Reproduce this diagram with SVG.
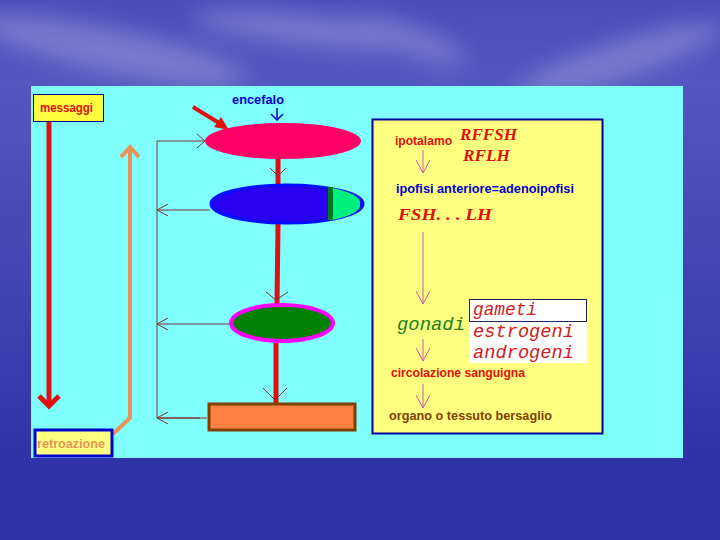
<svg xmlns="http://www.w3.org/2000/svg" width="720" height="540" viewBox="0 0 720 540">
<defs>
<linearGradient id="bg" x1="0" y1="0" x2="0" y2="1">
<stop offset="0" stop-color="#4A4CB8"/>
<stop offset="0.15" stop-color="#5457BE"/>
<stop offset="0.85" stop-color="#3033A8"/>
<stop offset="1" stop-color="#2E30A6"/>
</linearGradient>
<filter id="blur" x="-30%" y="-100%" width="160%" height="300%"><feGaussianBlur stdDeviation="12"/></filter>
<marker id="thin" viewBox="0 0 12 12" refX="11" refY="6" markerWidth="12" markerHeight="12" markerUnits="userSpaceOnUse" orient="auto">
<path d="M0,0 L11,6 L0,12" fill="none" stroke="#803030" stroke-width="1"/>
</marker>
<marker id="pink" viewBox="0 0 14 14" refX="13" refY="7" markerWidth="14" markerHeight="14" markerUnits="userSpaceOnUse" orient="auto">
<path d="M0,0 L13,7 L0,14" fill="none" stroke="#E050B0" stroke-width="1"/>
</marker>
</defs>
<style>
.lbl{font-family:"Liberation Sans",Arial,sans-serif;font-weight:bold;font-size:12px}
.mono{font-family:"Liberation Mono","Courier New",monospace;font-style:italic}
.fb{stroke:#803030;stroke-width:1;fill:none}
.pk{stroke:#E050B0;stroke-width:1;fill:none;marker-end:url(#pink)}
.red{stroke:#E01010;stroke-width:5;fill:none}
</style>
<rect x="0" y="0" width="720" height="540" fill="url(#bg)"/>
<g filter="url(#blur)" fill="#B8B8EC" opacity="0.4">
<ellipse cx="110" cy="50" rx="140" ry="22" transform="rotate(12 110 50)"/>
<ellipse cx="310" cy="30" rx="120" ry="16" transform="rotate(6 310 30)"/>
<ellipse cx="410" cy="40" rx="60" ry="14" transform="rotate(20 410 40)"/>
<ellipse cx="620" cy="60" rx="110" ry="18" transform="rotate(-18 620 60)"/>
</g>
<rect x="31" y="86" width="652" height="372" fill="#80FFFF"/>

<g id="connectors">
<line class="red" x1="49" y1="121" x2="49" y2="405"/>
<polyline points="39,396 49,406 59,396" fill="none" stroke="#E01010" stroke-width="5"/>
<polyline points="130,148 130,418 113,434" fill="none" stroke="#E8925A" stroke-width="4"/>
<polyline points="121,157 130,147 139,157" fill="none" stroke="#E8925A" stroke-width="4"/>
<line x1="193" y1="107" x2="224" y2="126" stroke="#E01010" stroke-width="4"/>
<polygon points="229,130 214,127 221,117" fill="#E01010"/>
<line x1="277" y1="108" x2="277" y2="120" stroke="#0000CC" stroke-width="1.5"/>
<polyline points="271,114 277,120 283,114" fill="none" stroke="#0000CC" stroke-width="1.5"/>
<line class="red" x1="278" y1="158" x2="278" y2="186"/>
<line class="red" x1="278" y1="224" x2="277" y2="304"/>
<line class="red" x1="276" y1="343" x2="276" y2="404"/>
<polyline class="fb" points="270,168 278,176 286,168"/>
<polyline class="fb" points="266,292 276,300 288,292"/>
<polyline class="fb" points="263,388 275,400 287,388"/>
<polyline class="fb" points="205,141 157,141 157,418 207,418"/>
<line class="fb" x1="197" y1="134" x2="205" y2="141"/>
<line class="fb" x1="197" y1="148" x2="205" y2="141"/>
<line class="fb" x1="210" y1="210" x2="157" y2="210" marker-end="url(#thin)"/>
<line class="fb" x1="230" y1="324" x2="157" y2="324" marker-end="url(#thin)"/>
<line class="fb" x1="200" y1="418" x2="157" y2="418" marker-end="url(#thin)"/>
</g>

<g id="messaggi">
<rect x="33.5" y="94.5" width="70" height="27" fill="#FFFF40" stroke="#000080" stroke-width="1"/>
<text class="lbl" x="40" y="112" fill="#E01010" textLength="53" lengthAdjust="spacingAndGlyphs">messaggi</text>
</g>
<g id="retroazione">
<rect x="35" y="430" width="77" height="26" fill="#FFFF80" stroke="#0000D0" stroke-width="3"/>
<text class="lbl" x="37" y="448" fill="#E8925A" textLength="68" lengthAdjust="spacingAndGlyphs">retroazione</text>
</g>
<g id="encefalo">
<text class="lbl" x="232" y="104" fill="#0000CC" textLength="52" lengthAdjust="spacingAndGlyphs">encefalo</text>
<ellipse cx="283" cy="141" rx="78" ry="18" fill="#FF0066"/>
</g>
<g id="ipofisi">
<ellipse cx="287" cy="204" rx="76" ry="19" fill="#2A00F0" stroke="#0010FF" stroke-width="3"/>
<path d="M330,187.5 A76,19 0 0 1 360,204 A76,19 0 0 1 330,220.5 Z" fill="#00F080"/>
<rect x="328" y="187" width="5" height="33" fill="#007A20"/>
</g>
<g id="gonadi">
<ellipse cx="282" cy="323" rx="51" ry="18" fill="#008000" stroke="#FF00FF" stroke-width="4"/>
</g>
<g id="bersaglio">
<rect x="209" y="404" width="146" height="26" fill="#FF8040" stroke="#804000" stroke-width="3"/>
</g>

<g id="legenda">
<rect x="372.5" y="119.5" width="230" height="314" fill="#FFFF80" stroke="#0000A0" stroke-width="2"/>
<text class="lbl" x="395" y="145" fill="#E01010" textLength="57" lengthAdjust="spacingAndGlyphs">ipotalamo</text>
<text x="460" y="140" font-family="Liberation Serif,serif" font-weight="bold" font-style="italic" font-size="16" fill="#E01010" textLength="57" lengthAdjust="spacingAndGlyphs">RFFSH</text>
<text x="463" y="161" font-family="Liberation Serif,serif" font-weight="bold" font-style="italic" font-size="16" fill="#E01010" textLength="47" lengthAdjust="spacingAndGlyphs">RFLH</text>
<line class="pk" x1="423" y1="150" x2="423" y2="173"/>
<text class="lbl" x="396" y="193" fill="#0000CC" textLength="178" lengthAdjust="spacingAndGlyphs">ipofisi anteriore=adenoipofisi</text>
<text x="398" y="220" font-family="Liberation Serif,serif" font-weight="bold" font-style="italic" font-size="16" fill="#E01010" textLength="94" lengthAdjust="spacingAndGlyphs">FSH. . . LH</text>
<line class="pk" x1="423" y1="232" x2="423" y2="304"/>
<text class="mono" x="397" y="330" font-size="18" fill="#208020" textLength="68" lengthAdjust="spacingAndGlyphs">gonadi</text>
<rect x="469" y="299" width="118" height="64" fill="#FFFFFF"/>
<rect x="469.5" y="299.5" width="117" height="22" fill="none" stroke="#202060" stroke-width="1"/>
<text class="mono" x="473" y="315" font-size="18" fill="#D02020" textLength="64" lengthAdjust="spacingAndGlyphs">gameti</text>
<text class="mono" x="473" y="337" font-size="18" fill="#D02020" textLength="101" lengthAdjust="spacingAndGlyphs">estrogeni</text>
<text class="mono" x="473" y="358" font-size="18" fill="#D02020" textLength="101" lengthAdjust="spacingAndGlyphs">androgeni</text>
<line class="pk" x1="423" y1="339" x2="423" y2="361"/>
<text class="lbl" x="391" y="377" fill="#E01010" textLength="134" lengthAdjust="spacingAndGlyphs">circolazione sanguigna</text>
<line class="pk" x1="423" y1="384" x2="423" y2="408"/>
<text class="lbl" x="389" y="420" fill="#804000" textLength="163" lengthAdjust="spacingAndGlyphs">organo o tessuto bersaglio</text>
</g>
</svg>
